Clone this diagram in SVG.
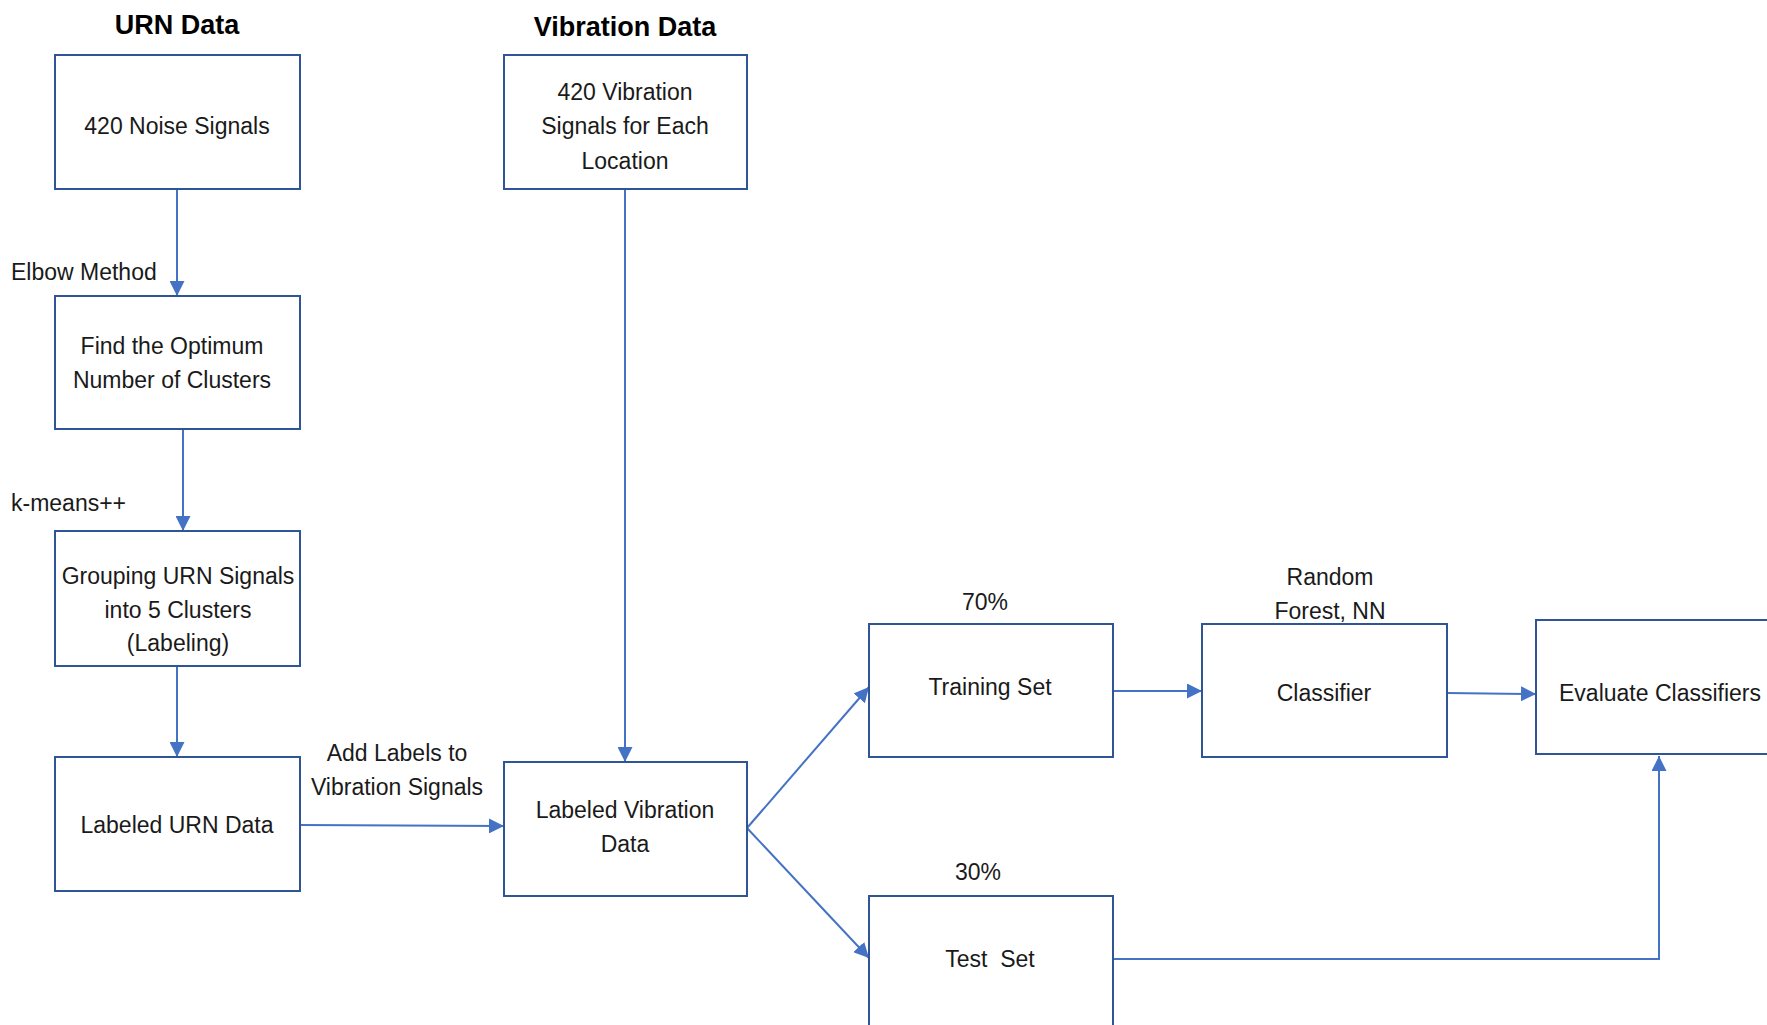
<svg xmlns="http://www.w3.org/2000/svg" width="1767" height="1025" viewBox="0 0 1767 1025">
<style>
.box{fill:#ffffff;stroke:#2F5597;stroke-width:2}
.t{font-family:"Liberation Sans",Arial,sans-serif;font-size:23px;fill:#1a1a1a;text-anchor:middle;dominant-baseline:central}
.l{font-family:"Liberation Sans",Arial,sans-serif;font-size:23px;fill:#1a1a1a;dominant-baseline:central}
.h{font-family:"Liberation Sans",Arial,sans-serif;font-size:27px;font-weight:bold;fill:#000;text-anchor:middle;dominant-baseline:central}
.c{fill:none;stroke:#4472C4;stroke-width:2;marker-end:url(#ah)}
</style>
<defs>
<marker id="ah" markerUnits="userSpaceOnUse" markerWidth="15" markerHeight="15" viewBox="0 0 15 15" refX="15" refY="7.5" orient="auto">
<path d="M0,0 L15,7.5 L0,15 Z" fill="#4472C4"/>
</marker>
</defs>
<rect width="1767" height="1025" fill="#ffffff"/>
<text class="h" x="177" y="25">URN Data</text>
<text class="h" x="625" y="27">Vibration Data</text>
<g id="connectors">
<line class="c" x1="177" y1="189" x2="177" y2="296"/>
<line class="c" x1="183" y1="429" x2="183" y2="531"/>
<line class="c" x1="177" y1="666" x2="177" y2="757"/>
<line class="c" x1="625" y1="189" x2="625" y2="762"/>
<line class="c" x1="300" y1="825" x2="504" y2="826"/>
<line class="c" x1="747" y1="828" x2="869" y2="687"/>
<line class="c" x1="747" y1="828" x2="869" y2="958"/>
<line class="c" x1="1113" y1="691" x2="1202" y2="691"/>
<line class="c" x1="1447" y1="693" x2="1536" y2="694"/>
<polyline class="c" points="1113,959 1659,959 1659,756"/>
<text class="l" x="11" y="272">Elbow Method</text>
<text class="l" x="11" y="503">k-means++</text>
<text class="t" x="397" y="753">Add Labels to</text>
<text class="t" x="397" y="787">Vibration Signals</text>
<text class="t" x="985" y="602">70%</text>
<text class="t" x="978" y="872">30%</text>
<text class="t" x="1330" y="577">Random</text>
<text class="t" x="1330" y="611">Forest, NN</text>
</g>
<g id="n1"><rect class="box" x="55" y="55" width="245" height="134"/><text class="t" x="177" y="126">420 Noise Signals</text></g>
<g id="n2"><rect class="box" x="504" y="55" width="243" height="134"/><text class="t" x="625" y="92">420 Vibration</text><text class="t" x="625" y="126">Signals for Each</text><text class="t" x="625" y="161">Location</text></g>
<g id="n3"><rect class="box" x="55" y="296" width="245" height="133"/><text class="t" x="172" y="346">Find the Optimum</text><text class="t" x="172" y="380">Number of Clusters</text></g>
<g id="n4"><rect class="box" x="55" y="531" width="245" height="135"/><text class="t" x="178" y="576">Grouping URN Signals</text><text class="t" x="178" y="610">into 5 Clusters</text><text class="t" x="178" y="643">(Labeling)</text></g>
<g id="n5"><rect class="box" x="55" y="757" width="245" height="134"/><text class="t" x="177" y="825">Labeled URN Data</text></g>
<g id="n6"><rect class="box" x="504" y="762" width="243" height="134"/><text class="t" x="625" y="810">Labeled Vibration</text><text class="t" x="625" y="844">Data</text></g>
<g id="n7"><rect class="box" x="869" y="624" width="244" height="133"/><text class="t" x="990" y="687">Training Set</text></g>
<g id="n8"><rect class="box" x="869" y="896" width="244" height="140"/><text class="t" x="990" y="959" xml:space="preserve">Test  Set</text></g>
<g id="n9"><rect class="box" x="1202" y="624" width="245" height="133"/><text class="t" x="1324" y="693">Classifier</text></g>
<g id="n10"><rect class="box" x="1536" y="620" width="245" height="134"/><text class="t" x="1660" y="693">Evaluate Classifiers</text></g>
</svg>
